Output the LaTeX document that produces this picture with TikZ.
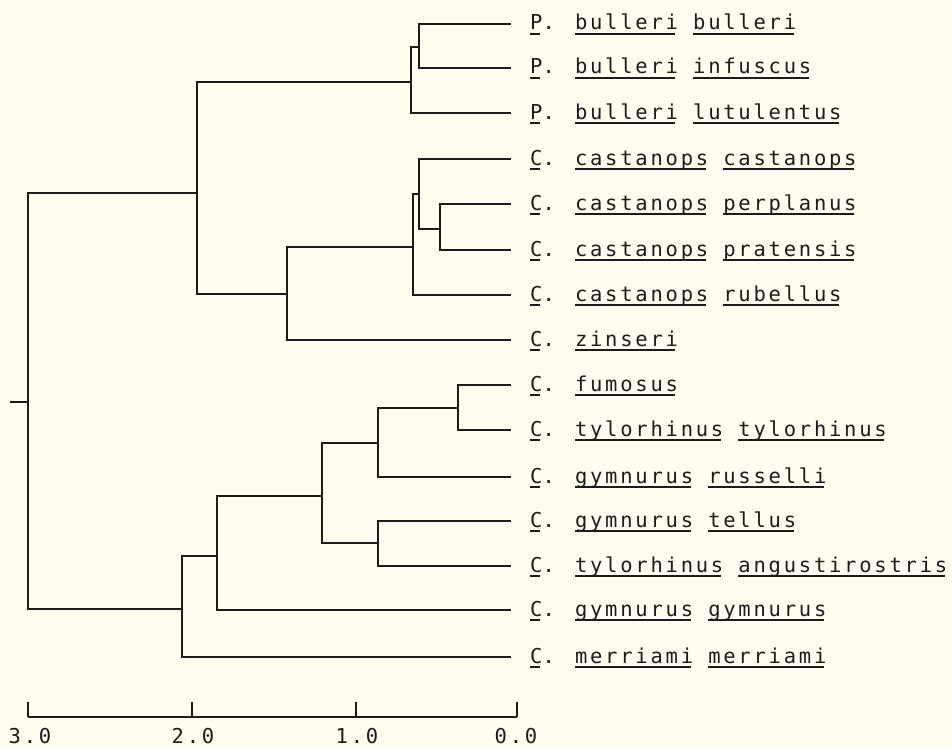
\documentclass[tikz,border=0pt]{standalone}
\usepackage{fontspec}
\newfontfamily\printfont[LetterSpace=13.5]{DejaVu Sans Mono}
\definecolor{paper}{RGB}{255,253,240}
\definecolor{ink}{RGB}{28,28,28}
% underline a word at a fixed depth below the baseline
\newcommand\ulword[1]{\setbox0\hbox{#1}\rlap{\rule[-5pt]{\dimexpr\wd0-2.6pt\relax}{1.8pt}}\box0\relax}
\tikzset{
  branch/.style={draw=ink, line width=1.4pt},
  taxon/.style={anchor=base west, inner sep=0pt, text=ink,
    font=\printfont\fontsize{20.5pt}{24pt}\selectfont},
  scalelab/.style={anchor=base, inner sep=0pt, text=ink,
    font=\printfont\fontsize{20.5pt}{24pt}\selectfont},
}
\begin{document}
\begin{tikzpicture}[x=1pt, y=-1pt]
  \fill[paper] (0,0) rectangle (952,749);
  \useasboundingbox (0,0) rectangle (952,749);

  % internal nodes (x = height, y = where the parent branch enters)
  \coordinate (stub) at (10,402);
  \coordinate (root) at (28,402);
  \coordinate (A)   at (197,193);
  \coordinate (B)   at (411,82);
  \coordinate (B1)  at (419,47);
  \coordinate (Z)   at (287,294);
  \coordinate (Cc)  at (413,247);
  \coordinate (Cc1) at (419,194);
  \coordinate (Cc2) at (440,229);
  \coordinate (M)   at (182,609);
  \coordinate (G)   at (217,556);
  \coordinate (H)   at (322,496);
  \coordinate (I)   at (378,443);
  \coordinate (J)   at (458,408);
  \coordinate (K)   at (378,543);

  % tips of the terminal branches
  \coordinate (e1)  at (511,24);
  \coordinate (e2)  at (511,68);
  \coordinate (e3)  at (511,113);
  \coordinate (e4)  at (511,159);
  \coordinate (e5)  at (511,204);
  \coordinate (e6)  at (511,250);
  \coordinate (e7)  at (511,295);
  \coordinate (e8)  at (511,340);
  \coordinate (e9)  at (511,385);
  \coordinate (e10) at (511,430);
  \coordinate (e11) at (511,477);
  \coordinate (e12) at (511,521);
  \coordinate (e13) at (511,566);
  \coordinate (e14) at (511,610);
  \coordinate (e15) at (511,657);

  % taxon names
  \node[taxon] (t1)  at (530,30)  {\ulword{P}. \ulword{bulleri} \ulword{bulleri}};
  \node[taxon] (t2)  at (530,74)  {\ulword{P}. \ulword{bulleri} \ulword{infuscus}};
  \node[taxon] (t3)  at (530,119) {\ulword{P}. \ulword{bulleri} \ulword{lutulentus}};
  \node[taxon] (t4)  at (530,165) {\ulword{C}. \ulword{castanops} \ulword{castanops}};
  \node[taxon] (t5)  at (530,210) {\ulword{C}. \ulword{castanops} \ulword{perplanus}};
  \node[taxon] (t6)  at (530,256) {\ulword{C}. \ulword{castanops} \ulword{pratensis}};
  \node[taxon] (t7)  at (530,301) {\ulword{C}. \ulword{castanops} \ulword{rubellus}};
  \node[taxon] (t8)  at (530,346) {\ulword{C}. \ulword{zinseri}};
  \node[taxon] (t9)  at (530,391) {\ulword{C}. \ulword{fumosus}};
  \node[taxon] (t10) at (530,436) {\ulword{C}. \ulword{tylorhinus} \ulword{tylorhinus}};
  \node[taxon] (t11) at (530,483) {\ulword{C}. \ulword{gymnurus} \ulword{russelli}};
  \node[taxon] (t12) at (530,527) {\ulword{C}. \ulword{gymnurus} \ulword{tellus}};
  \node[taxon] (t13) at (530,572) {\ulword{C}. \ulword{tylorhinus} \ulword{angustirostris}};
  \node[taxon] (t14) at (530,616) {\ulword{C}. \ulword{gymnurus} \ulword{gymnurus}};
  \node[taxon] (t15) at (530,663) {\ulword{C}. \ulword{merriami} \ulword{merriami}};

  % the tree
  \draw[branch] (stub) -- (root);
  \draw[branch] (root) |- (A);
  \draw[branch] (root) |- (M);
  \draw[branch] (A) |- (B);
  \draw[branch] (A) |- (Z);
  \draw[branch] (B) |- (B1);
  \draw[branch] (B) |- (e3);
  \draw[branch] (B1) |- (e1);
  \draw[branch] (B1) |- (e2);
  \draw[branch] (Z) |- (Cc);
  \draw[branch] (Z) |- (e8);
  \draw[branch] (Cc) |- (Cc1);
  \draw[branch] (Cc) |- (e7);
  \draw[branch] (Cc1) |- (e4);
  \draw[branch] (Cc1) |- (Cc2);
  \draw[branch] (Cc2) |- (e5);
  \draw[branch] (Cc2) |- (e6);
  \draw[branch] (M) |- (G);
  \draw[branch] (M) |- (e15);
  \draw[branch] (G) |- (H);
  \draw[branch] (G) |- (e14);
  \draw[branch] (H) |- (I);
  \draw[branch] (H) |- (K);
  \draw[branch] (I) |- (J);
  \draw[branch] (I) |- (e11);
  \draw[branch] (J) |- (e9);
  \draw[branch] (J) |- (e10);
  \draw[branch] (K) |- (e12);
  \draw[branch] (K) |- (e13);

  % distance scale
  \coordinate (s3) at (28,717);
  \coordinate (s2) at (192,717);
  \coordinate (s1) at (356,717);
  \coordinate (s0) at (517,717);
  \draw[branch] (s3) -- (s0);
  \foreach \s in {s3,s2,s1,s0} \draw[branch] (\s) -- ++(0,-15);
  \node[scalelab] (l3) at (30,743)  {3.0};
  \node[scalelab] (l2) at (193,743) {2.0};
  \node[scalelab] (l1) at (357,743) {1.0};
  \node[scalelab] (l0) at (516,743) {0.0};
\end{tikzpicture}
\end{document}
